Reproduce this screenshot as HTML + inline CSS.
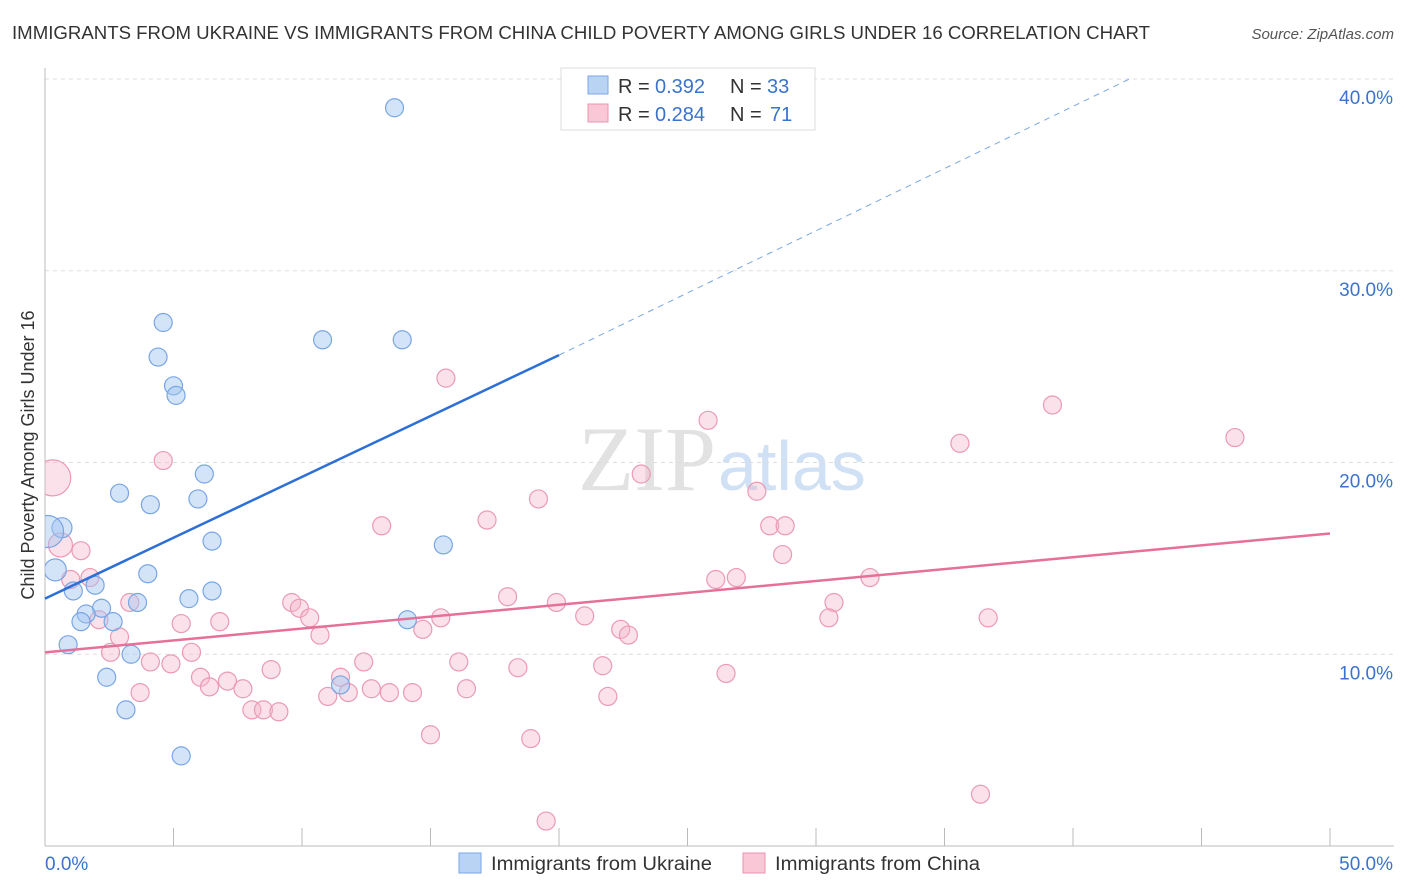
<!DOCTYPE html>
<html><head><meta charset="utf-8">
<style>
body{margin:0;background:#fff;font-family:"Liberation Sans",sans-serif;}
svg{display:block}
</style></head>
<body>
<svg id="chart" width="1406" height="892">
<text x="12" y="39" font-size="18" fill="#333" textLength="1138" lengthAdjust="spacingAndGlyphs">IMMIGRANTS FROM UKRAINE VS IMMIGRANTS FROM CHINA CHILD POVERTY AMONG GIRLS UNDER 16 CORRELATION CHART</text>
<text x="1394" y="39" font-size="15" fill="#555" font-style="italic" text-anchor="end">Source: ZipAtlas.com</text>
<text x="34" y="455" font-size="18" fill="#333" text-anchor="middle" transform="rotate(-90 34 455)">Child Poverty Among Girls Under 16</text>
<text x="716" y="490" font-size="92" fill="#e2e2e2" text-anchor="end" font-family="Liberation Serif">ZIP</text>
<text x="718" y="490" font-size="70" fill="#d0e0f5">atlas</text>
<defs><clipPath id="plotclip"><rect x="45" y="60" width="1361" height="786"/></clipPath></defs>
<g id="grid"></g><g id="axes"></g><g id="pts" clip-path="url(#plotclip)"></g><g id="lines"></g>
<g>
<rect x="561" y="68" width="254" height="62" fill="#fff" stroke="#ddd"/>
<rect x="588" y="76" width="20" height="18" fill="#b9d3f4" stroke="#7aa7e6"/>
<rect x="588" y="104" width="20" height="18" fill="#f9c7d6" stroke="#ec93b0"/>
<text x="618" y="93" font-size="20" fill="#333">R =</text><text x="655" y="93" font-size="20" fill="#3b73cc">0.392</text>
<text x="730" y="93" font-size="20" fill="#333">N =</text><text x="767" y="93" font-size="20" fill="#3b73cc">33</text>
<text x="618" y="121" font-size="20" fill="#333">R =</text><text x="655" y="121" font-size="20" fill="#3b73cc">0.284</text>
<text x="730" y="121" font-size="20" fill="#333">N =</text><text x="770" y="121" font-size="20" fill="#3b73cc">71</text>
</g>
<g>
<rect x="459" y="853" width="22" height="20" fill="#b9d3f4" stroke="#7aa7e6"/>
<text x="491" y="870" font-size="19" fill="#333" textLength="221" lengthAdjust="spacingAndGlyphs">Immigrants from Ukraine</text>
<rect x="743" y="853" width="22" height="20" fill="#f9c7d6" stroke="#ec93b0"/>
<text x="775" y="870" font-size="19" fill="#333" textLength="205" lengthAdjust="spacingAndGlyphs">Immigrants from China</text>
</g>
</svg>
<script>
const yTicks=[10,20,30,40];
const xTickLabels=["0.0%","50.0%"];
const ukraineX=[13.6,4.6,4.4,10.8,13.9,5,5.1,6.2,2.9,5.95,4.1,0.66,0.1,6.5,15.5,0.4,4,1.95,1.1,6.5,5.6,3.6,2.2,1.6,1.4,2.65,14.1,0.9,3.35,2.4,11.5,3.15,5.3];
const ukraineY=[38.5,27.3,25.5,26.4,26.4,24,23.5,19.4,18.4,18.1,17.8,16.6,16.4,15.9,15.7,14.4,14.2,13.6,13.3,13.3,12.9,12.7,12.4,12.1,11.7,11.7,11.8,10.5,10.0,8.8,8.4,7.1,4.7];
const ukraineR=[9,9,9,9,9,9,9,9,9,9,9,10,16,9,9,11,9,9,9,9,9,9,9,9,9,9,9,9,9,9,9,9,9];
const chinaX=[0.3,0.6,4.6,15.6,25.8,39.2,46.3,35.6,23.2,27.7,19.2,17.2,13.1,28.2,28.8,28.7,1.4,1,1.75,26.1,26.9,32.1,18,19.9,9.6,9.9,3.3,30.7,21,10.3,15.4,5.3,6.8,2.1,30.5,36.7,14.7,22.4,22.7,10.7,2.9,2.55,5.7,4.1,4.9,16.1,12.4,18.4,21.7,8.8,11.5,6.05,7.1,26.5,6.4,7.7,3.7,16.4,12.7,11.8,13.4,14.3,11,21.9,8.05,8.5,9.1,15,18.9,36.4,19.5];
const chinaY=[19.2,15.7,20.1,24.4,22.2,23,21.3,21,19.4,18.5,18.1,17,16.7,16.7,16.7,15.2,15.4,13.9,14,13.9,14,14,13,12.7,12.7,12.4,12.7,12.7,12,11.9,11.9,11.6,11.7,11.8,11.9,11.9,11.3,11.3,11,11,10.9,10.1,10.1,9.6,9.5,9.6,9.6,9.3,9.4,9.2,8.8,8.8,8.6,9,8.3,8.2,8,8.2,8.2,8,8,8,7.8,7.8,7.1,7.1,7,5.8,5.6,2.7,1.3];
const chinaR=[18,12];
const ukraineLine=[[0,12.9],[20,25.6]];
const ukraineDash=[[20,25.6],[42.2,40]];
const chinaLine=[[0,10.1],[50,16.3]];
const X0=45,X1=1330,Y0=846,Y40=79;
function sx(v){return X0+(X1-X0)*v/50;}
function sy(v){return Y0-(Y0-Y40)*v/40;}
const NS="http://www.w3.org/2000/svg";
function mk(t,a,p){const e=document.createElementNS(NS,t);for(const k in a)e.setAttribute(k,a[k]);p.appendChild(e);return e;}
const grid=document.getElementById('grid'),axes=document.getElementById('axes'),pts=document.getElementById('pts'),lines=document.getElementById('lines');
yTicks.forEach(t=>{
 const l=mk('line',{x1:X0,x2:1394,y1:sy(t),y2:sy(t),stroke:'#ddd','stroke-dasharray':'4,4'},grid);
 
 
 const tx=mk('text',{x:1393,y:sy(t)+25,'font-size':19,fill:'#3b73cc','text-anchor':'end'},grid);
 tx.textContent=t.toFixed(1)+'%';
 
 
});
const ya=mk('line',{x1:X0,x2:X0,y1:68,y2:Y0,stroke:'#bbb'},axes);


const xa=mk('line',{x1:X0,x2:1394,y1:Y0,y2:Y0,stroke:'#bbb'},axes);


for(let i=0;i<=10;i++){const t=mk('line',{x1:sx(i*5),x2:sx(i*5),y1:828,y2:Y0,stroke:'#bbb'},axes);
 
 }
xTickLabels.forEach((s,i)=>{const t=mk('text',{x:i?1393:45,y:870,'font-size':19,fill:'#3b73cc','text-anchor':i?'end':'start'},axes);t.textContent=s;
 
 });
chinaX.forEach((x,i)=>{const c=mk('circle',{cx:sx(x),cy:sy(chinaY[i]),r:chinaR[i]||9,fill:'rgba(246,180,200,0.4)',stroke:'#eb9ab4','stroke-width':1.2},pts);
 
 });
ukraineX.forEach((x,i)=>{const c=mk('circle',{cx:sx(x),cy:sy(ukraineY[i]),r:ukraineR[i],fill:'rgba(160,195,240,0.45)',stroke:'#78a6e4','stroke-width':1.2},pts);
 
 });
const bl=mk('line',{x1:sx(ukraineLine[0][0]),y1:sy(ukraineLine[0][1]),x2:sx(ukraineLine[1][0]),y2:sy(ukraineLine[1][1]),stroke:'#2c6fd6','stroke-width':2.5},lines);


const bd=mk('line',{x1:sx(ukraineDash[0][0]),y1:sy(ukraineDash[0][1]),x2:sx(ukraineDash[1][0]),y2:sy(ukraineDash[1][1]),stroke:'#7aa7e6','stroke-width':1,'stroke-dasharray':'6,5'},lines);


const pl=mk('line',{x1:sx(chinaLine[0][0]),y1:sy(chinaLine[0][1]),x2:sx(chinaLine[1][0]),y2:sy(chinaLine[1][1]),stroke:'#e5709a','stroke-width':2.5},lines);


</script>
</body></html>
